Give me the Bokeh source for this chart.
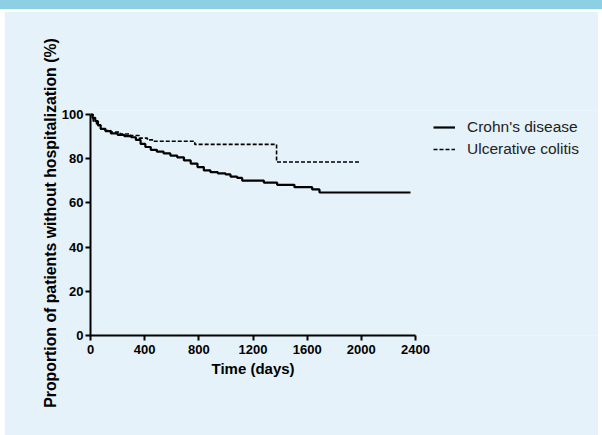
from bokeh.plotting import figure
from bokeh.models import Range1d, FixedTicker, Legend, LegendItem, Div, Title
from bokeh.layouts import column
from bokeh.embed import file_html
from bokeh.resources import INLINE

# Kaplan-Meier data (days, % without hospitalization)
cd_days = [0, 15, 35, 55, 75, 110, 150, 200, 250, 300, 335, 370, 405, 445, 490, 540,
           590, 640, 690, 740, 790, 837, 886, 940, 997, 1034, 1083, 1120, 1280, 1378,
           1506, 1637, 1691, 2363]
cd_vals = [100, 98.5, 97, 95.2, 93.5, 92.5, 91.5, 90.8, 90.2, 89.7, 88.5, 86.7, 85.3, 84,
           83.2, 82.4, 81.4, 80.6, 79.2, 77.8, 76.2, 74.7, 73.9, 73.4, 72.9, 71.9, 71.3,
           70.1, 69.2, 68.2, 67.1, 66.1, 64.7, 64.7]
uc_days = [0, 20, 45, 75, 110, 150, 220, 295, 360, 420, 465, 770, 1374, 1995]
uc_vals = [100, 97, 95, 93.5, 92.7, 92.1, 91.2, 90.5, 89.3, 88.5, 87.9, 86.5, 78.5, 78.5]

x_ticks = [0, 400, 800, 1200, 1600, 2000, 2400]
y_ticks = [0, 20, 40, 60, 80, 100]
series_names = ["Crohn's disease", "Ulcerative colitis"]
x_title = "Time (days)"
y_title = "Proportion of patients without hospitalization (%)"

BG = "#e5f2f9"
BAND = "#8ed0e3"
FONT = "Liberation Sans"

px_per_day = 325 / 2400.0
px_per_unit = 2.21
frame_h = 225
frame_w = 512

band = Div(width=602, height=9, text="",
           styles={"background-color": BAND, "margin": "0", "padding": "0"})
band2 = Div(width=602, height=2, text="",
            styles={"background-color": "white", "margin": "0", "padding": "0"})

p = figure(width=598, height=424, output_backend="svg", toolbar_location=None,
           x_range=Range1d(0, frame_w / px_per_day),
           y_range=Range1d(0, frame_h / px_per_unit),
           min_border_left=86, min_border_right=0, min_border_top=99,
           min_border_bottom=100)
p.styles = {"border-left": "4px solid white"}
p.background_fill_color = BG
p.border_fill_color = BG
p.outline_line_color = None
p.grid.visible = False

r_cd = p.step(cd_days, cd_vals, mode="after", line_color="black", line_width=2.2)
r_uc = p.step(uc_days, uc_vals, mode="after", line_color="black", line_width=1.6,
              line_dash="4 2")

for ax in (p.xaxis[0], p.yaxis[0]):
    ax.axis_line_width = 2
    ax.axis_line_color = "black"
    ax.major_tick_line_width = 2
    ax.major_tick_line_color = "black"
    ax.major_tick_in = 0
    ax.major_tick_out = 5
    ax.minor_tick_line_color = None
    ax.major_label_text_font = FONT
    ax.major_label_text_font_style = "bold"
    ax.major_label_text_font_size = "13px"
    ax.major_label_text_color = "black"
    ax.axis_label_text_font = FONT
    ax.axis_label_text_font_style = "bold"
    ax.axis_label_text_color = "black"

p.xaxis.ticker = FixedTicker(ticks=x_ticks)
p.yaxis.ticker = FixedTicker(ticks=y_ticks)
p.xaxis.bounds = (0, 2400)
p.yaxis.bounds = (0, 100)
p.xaxis.major_label_standoff = 4
p.yaxis.major_label_standoff = 2
p.yaxis.axis_label = y_title
p.yaxis.axis_label_text_font_size = "15.8px"
p.yaxis.axis_label_standoff = 0

xt = Title(text=x_title, align="left", offset=121, text_font=FONT,
           text_font_style="bold", text_font_size="15px", text_color="black",
           standoff=3)
p.add_layout(xt, "below")

legend = Legend(items=[LegendItem(label=series_names[0], renderers=[r_cd]),
                       LegendItem(label=series_names[1], renderers=[r_uc])],
                location=(433 - 90, frame_h - 160 + 110), orientation="vertical",
                padding=0, margin=0, spacing=0, glyph_width=22, glyph_height=22,
                label_height=22, label_standoff=12,
                label_text_font=FONT, label_text_font_size="15.5px",
                label_text_color="#222222",
                background_fill_alpha=0, border_line_color=None)
p.add_layout(legend)

layout = column(band, band2, p, spacing=0)
open("out.html", "w").write(file_html(layout, INLINE))
